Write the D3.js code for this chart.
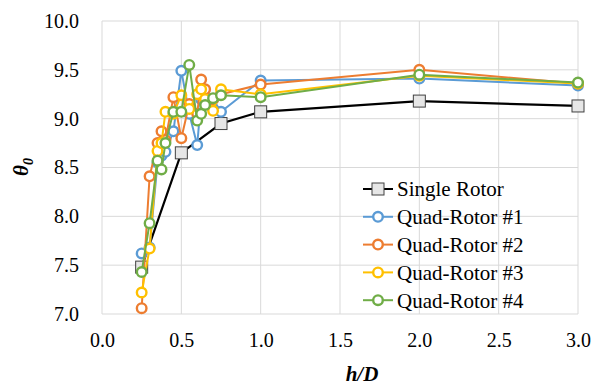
<!DOCTYPE html>
<html><head><meta charset="utf-8">
<script src="https://cdn.jsdelivr.net/npm/d3@7/dist/d3.min.js"></script>
<style>body{margin:0;background:#fff}svg{display:block}</style>
</head><body>
<script>
const xTicks = [0.0, 0.5, 1.0, 1.5, 2.0, 2.5, 3.0];
const yTicks = [7.0, 7.5, 8.0, 8.5, 9.0, 9.5, 10.0];
const singleX = [0.25, 0.5, 0.75, 1.0, 2.0, 3.0];
const singleY = [7.48, 8.65, 8.95, 9.07, 9.18, 9.13];
const quadX = [0.25, 0.3, 0.35, 0.375, 0.4, 0.45, 0.5, 0.55, 0.6, 0.625, 0.65, 0.7, 0.75, 1.0, 2.0, 3.0];
const quad1 = [7.62, 7.68, 8.55, 8.62, 8.66, 8.87, 9.49, 9.05, 8.73, 9.20, 9.15, 9.20, 9.07, 9.39, 9.41, 9.34];
const quad2 = [7.06, 8.41, 8.75, 8.87, 8.78, 9.22, 8.80, 9.15, 9.05, 9.40, 9.30, 9.20, 9.25, 9.35, 9.50, 9.36];
const quad3 = [7.22, 7.67, 8.67, 8.75, 9.07, 9.05, 9.24, 9.10, 9.25, 9.30, 9.20, 9.08, 9.30, 9.25, 9.44, 9.36];
const quad4 = [7.43, 7.93, 8.57, 8.48, 8.75, 9.07, 9.07, 9.55, 8.98, 9.05, 9.14, 9.21, 9.24, 9.22, 9.45, 9.37];
const seriesNames = ["Single Rotor", "Quad-Rotor #1", "Quad-Rotor #2", "Quad-Rotor #3", "Quad-Rotor #4"];
const seriesColors = ["#000000", "#5B9BD5", "#ED7D31", "#FFC000", "#70AD47"];

const FONT = "'Liberation Serif', 'Times New Roman', 'DejaVu Serif', serif";
const W = 597, H = 385;
const svg = d3.select("body").append("svg").attr("width", W).attr("height", H);
const x = d3.scaleLinear().domain([0, 3]).range([102, 578]);
const y = d3.scaleLinear().domain([7, 10]).range([314, 21]);

const g = svg.append("g");
g.selectAll("line.h").data(yTicks).join("line")
  .attr("x1", x(0)).attr("x2", x(3)).attr("y1", d => y(d)).attr("y2", d => y(d))
  .attr("stroke", "#d9d9d9").attr("stroke-width", 1);
g.selectAll("line.v").data(xTicks).join("line")
  .attr("y1", y(7)).attr("y2", y(10)).attr("x1", d => x(d)).attr("x2", d => x(d))
  .attr("stroke", "#d9d9d9").attr("stroke-width", 1);

const xAxis = svg.append("g").attr("transform", `translate(0,${y(7)})`)
  .call(d3.axisBottom(x).tickValues(xTicks).tickFormat(d3.format(".1f")).tickSize(0).tickPadding(19));
xAxis.select(".domain").remove();
xAxis.attr("font-family", null).attr("font-size", null);
xAxis.selectAll("text").style("font-family", FONT).style("font-size", "20px").attr("fill", "#000");
const yAxis = svg.append("g").attr("transform", `translate(${x(0)},0)`)
  .call(d3.axisLeft(y).tickValues(yTicks).tickFormat(d3.format(".1f")).tickSize(0).tickPadding(23));
yAxis.select(".domain").remove();
yAxis.attr("font-family", null).attr("font-size", null);
yAxis.selectAll("text").style("font-family", FONT).style("font-size", "20px").attr("fill", "#000");

svg.append("text").attr("x", 362).attr("y", 381).attr("text-anchor", "middle")
  .style("font-family", FONT).style("font-size", "21px").style("font-weight", "bold").style("font-style", "italic").text("h/D");
const yt = svg.append("text").attr("transform", "translate(28,167) rotate(-90)").attr("text-anchor", "middle")
  .style("font-family", FONT).style("font-size", "21px").style("font-weight", "bold").style("font-style", "italic");
yt.append("tspan").text("θ");
yt.append("tspan").style("font-size", "14px").attr("dy", 5).text("0");

const line = d3.line().x(d => x(d[0])).y(d => y(d[1]));
const allSeries = [
  d3.zip(singleX, singleY),
  d3.zip(quadX, quad1),
  d3.zip(quadX, quad2),
  d3.zip(quadX, quad3),
  d3.zip(quadX, quad4)
];

function drawMarker(sel, i, cx, cy) {
  if (i === 0) {
    sel.append("rect").attr("x", cx - 6).attr("y", cy - 6).attr("width", 12).attr("height", 12)
      .attr("fill", "#e6e6e6").attr("stroke", "#404040").attr("stroke-width", 1);
  } else {
    sel.append("circle").attr("cx", cx).attr("cy", cy).attr("r", 4.8)
      .attr("fill", "#fff").attr("stroke", seriesColors[i]).attr("stroke-width", 2.4);
  }
}

allSeries.forEach((data, i) => {
  const sg = svg.append("g");
  sg.append("path").attr("d", line(data)).attr("fill", "none")
    .attr("stroke", seriesColors[i]).attr("stroke-width", i === 0 ? 2.2 : 2);
  data.forEach(d => drawMarker(sg, i, x(d[0]), y(d[1])));
});

const legY0 = 189, legStep = 27.8;
seriesNames.forEach((name, i) => {
  const lg = svg.append("g");
  const yy = legY0 + i * legStep;
  lg.append("line").attr("x1", 363).attr("x2", 393).attr("y1", yy).attr("y2", yy)
    .attr("stroke", seriesColors[i]).attr("stroke-width", 2);
  drawMarker(lg, i, 378, yy);
  lg.append("text").attr("x", 397).attr("y", yy).attr("dy", "0.35em")
    .style("font-family", FONT).style("font-size", "21px").text(name);
});
</script>
</body></html>
